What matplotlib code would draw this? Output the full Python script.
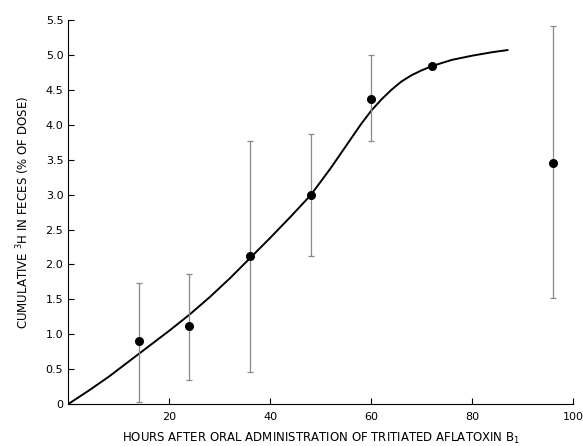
import numpy as np
import matplotlib.pyplot as plt

# measured points (hours, cumulative % of dose) with error bar ends
hours = [14, 24, 36, 48, 60, 72, 96]
mean_pct = [0.91, 1.12, 2.12, 3.0, 4.37, 4.84, 3.45]
err_top = [1.74, 1.87, 3.77, 3.87, 5.0, 4.84, 5.42]
err_bottom = [0.03, 0.35, 0.46, 2.12, 3.77, 4.84, 1.52]

# hand-drawn fitted curve
curve_h = [0, 4, 8, 12, 16, 20, 24, 28, 32, 36, 40, 44, 48, 52, 54, 56, 58, 60,
           62, 64, 66, 68, 70, 72, 76, 80, 84, 87]
curve_y = [0, 0.19, 0.39, 0.61, 0.83, 1.05, 1.28, 1.53, 1.80, 2.09, 2.38, 2.68, 2.99,
           3.38, 3.59, 3.80, 4.01, 4.20, 4.36, 4.50, 4.62, 4.71, 4.78, 4.84,
           4.93, 4.99, 5.04, 5.07]

y_ticks = [0, 0.5, 1.0, 1.5, 2.0, 2.5, 3.0, 3.5, 4.0, 4.5, 5.0, 5.5]
y_labels = ['0', '0.5', '1.0', '1.5', '2.0', '2.5', '3.0', '3.5', '4.0', '4.5', '5.0', '5.5']
x_ticks = [20, 40, 60, 80, 100]

plt.rcParams['font.family'] = ['DejaVu Sans']

fig = plt.figure(figsize=(5.83, 4.46), dpi=100)
ax = fig.add_axes([0.117, 0.094, 0.866, 0.861])

ax.plot(curve_h, curve_y, color='black', linewidth=1.4)

# error bars only where a spread was drawn
mean = np.array(mean_pct)
top = np.array(err_top)
bottom = np.array(err_bottom)
has_err = top > bottom
yerr = [(mean - bottom)[has_err], (top - mean)[has_err]]
ax.errorbar(np.array(hours)[has_err], mean[has_err], yerr=yerr, fmt='none',
            ecolor='#888888', elinewidth=0.9, capsize=2.5, capthick=0.9)
ax.plot(hours, mean_pct, 'o', color='black', markersize=5.5)

ax.set_xlim(0, 100)
ax.set_ylim(0, 5.5)
ax.set_xticks(x_ticks)
ax.set_yticks(y_ticks)
ax.set_yticklabels(y_labels)
ax.spines['top'].set_visible(False)
ax.spines['right'].set_visible(False)
ax.tick_params(direction='in', length=4, labelsize=8)
ax.tick_params(axis='x', pad=6)

ax.set_xlabel('HOURS AFTER ORAL ADMINISTRATION OF TRITIATED AFLATOXIN B$_1$', fontsize=8.5, labelpad=6)
ax.set_ylabel('CUMULATIVE $^3$H IN FECES (% OF DOSE)', fontsize=8.5, labelpad=10)

plt.savefig('out.png', dpi=100)
plt.close()
